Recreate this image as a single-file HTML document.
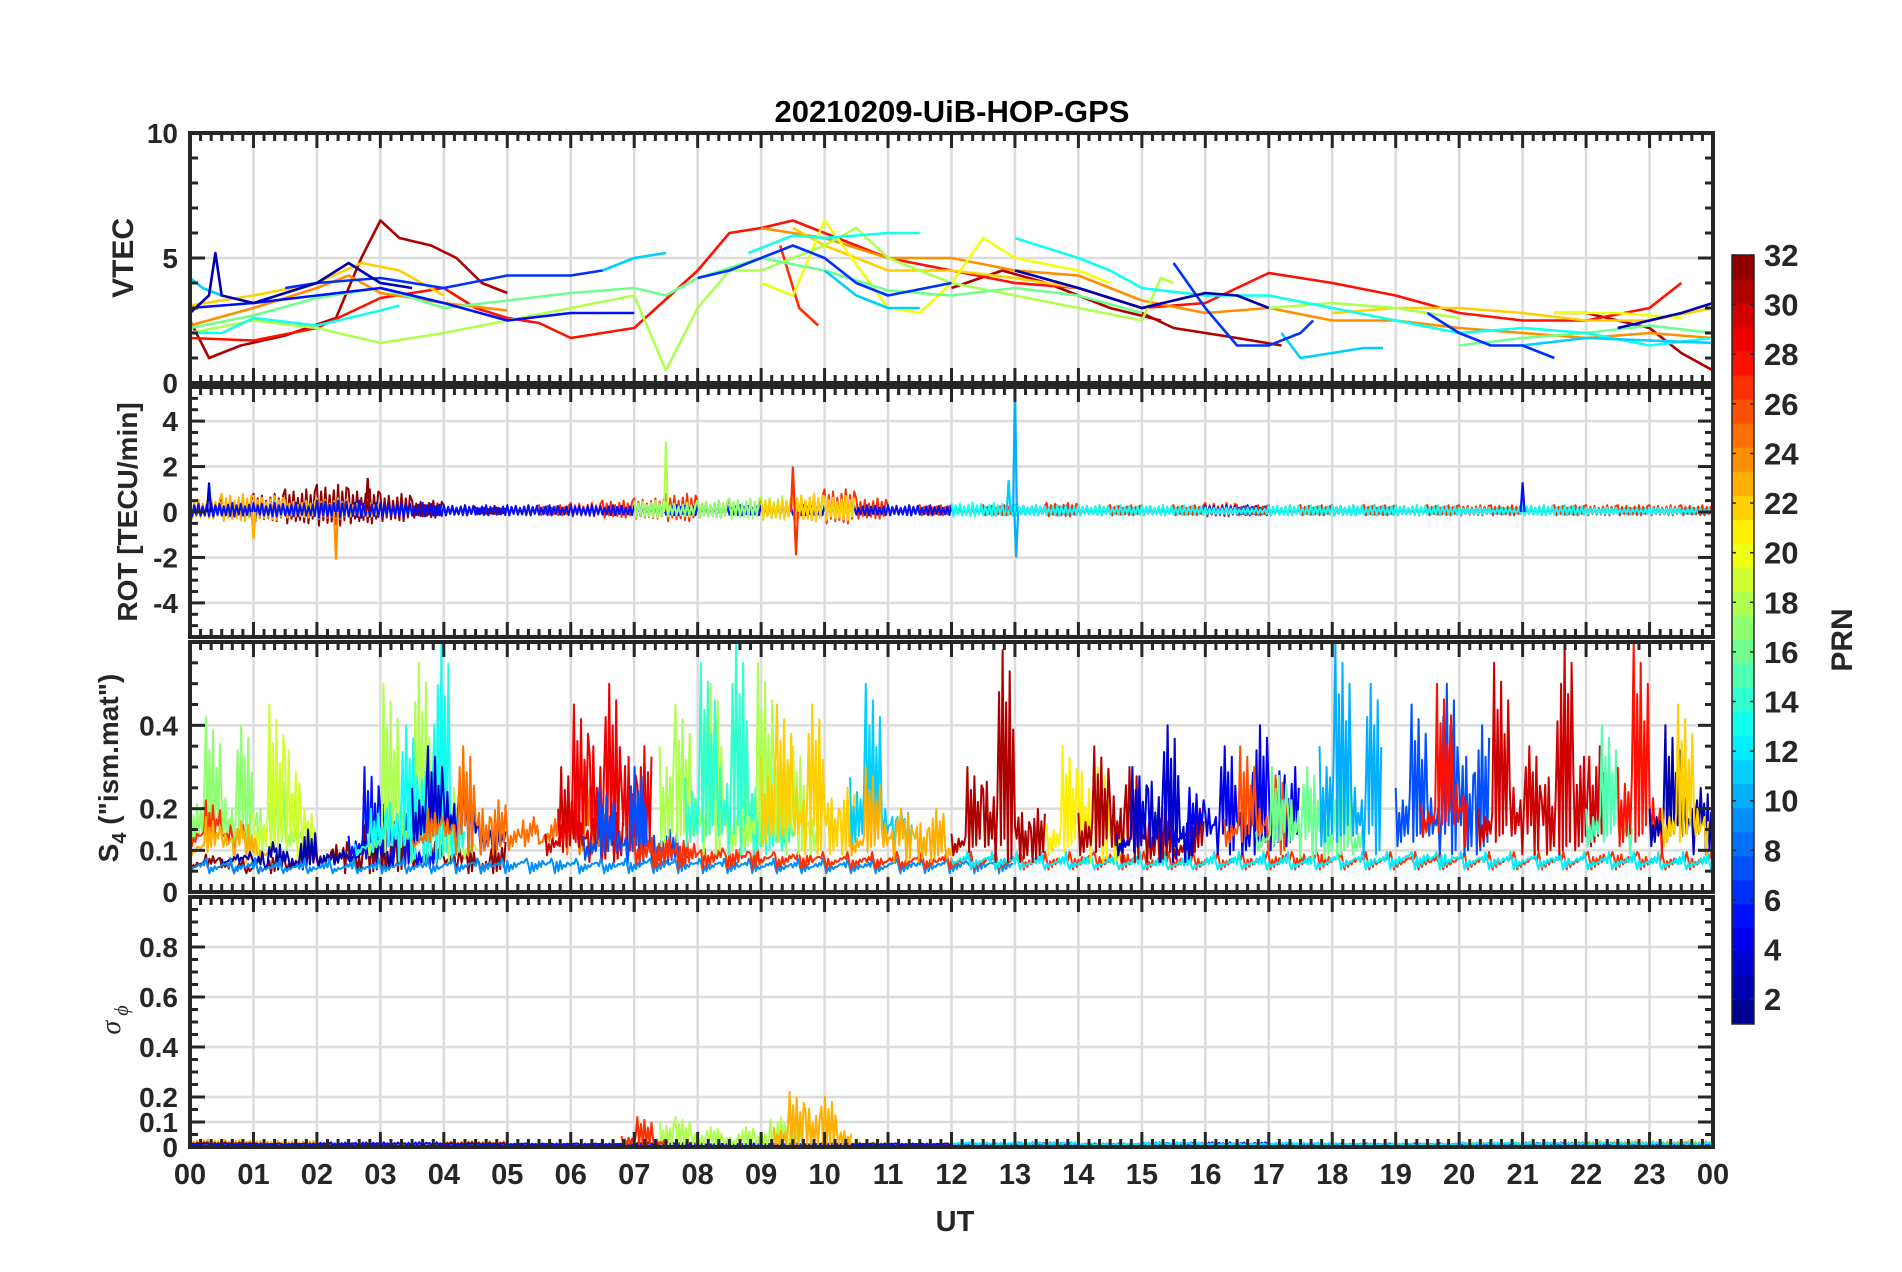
<!DOCTYPE html>
<html><head><meta charset="utf-8"><title>20210209-UiB-HOP-GPS</title>
<style>
html,body{margin:0;padding:0;background:#fff;}
svg{display:block;font-family:"Liberation Sans",Arial,sans-serif;font-weight:bold;}
</style></head>
<body>
<svg id="fig" width="1902" height="1272" viewBox="0 0 1902 1272" xmlns="http://www.w3.org/2000/svg">
<rect x="0" y="0" width="1902" height="1272" fill="#fff"/>
<text x="952" y="122" font-size="31" text-anchor="middle" fill="#000">20210209-UiB-HOP-GPS</text>
<text x="955" y="1231" font-size="29" text-anchor="middle" fill="#262626">UT</text>
<text transform="translate(133,258) rotate(-90)" font-size="30" text-anchor="middle" fill="#262626">VTEC</text>
<text transform="translate(137,512) rotate(-90)" font-size="28" text-anchor="middle" fill="#262626">ROT [TECU/min]</text>
<text transform="translate(118,768) rotate(-90)" font-size="28" text-anchor="middle" fill="#262626">S<tspan font-size="20" dy="8">4</tspan><tspan dy="-8"> ("ism.mat")</tspan></text>
<text transform="translate(120,1020) rotate(-90)" font-size="28" text-anchor="middle" fill="#262626" font-weight="normal" font-style="italic" font-family="Liberation Serif, serif">σ<tspan font-size="20" dy="8"> ϕ</tspan></text>
<text transform="translate(1852,640) rotate(-90)" font-size="30" text-anchor="middle" fill="#262626">PRN</text>
<g id="plots"></g>
</svg>
<script>
// ---------- DATA ----------
const hourLabels=["00","01","02","03","04","05","06","07","08","09","10","11","12","13","14","15","16","17","18","19","20","21","22","23","00"];
const vtecTicks=[0,5,10];
const rotTicks=[-4,-2,0,2,4];
const s4Ticks=[0,0.1,0.2,0.4];
const sigTicks=[0,0.1,0.2,0.4,0.6,0.8];
const cbTicks=[2,4,6,8,10,12,14,16,18,20,22,24,26,28,30,32];

// VTEC series: PRN, times (UT hours), values (TECU)
const vtecPrn=[31,31,31,31,28,27,24,24,22,22,22,20,20,18,18,16,16,13,13,13,11,11,11,11,11,6,6,6,6,5,2,2,2];
const vtecT=[
 [0,0.3,0.8,1.5,2.3,2.7,3.0,3.3,3.8,4.2,4.6,5.0],
 [12,12.8,13.5,14,14.5,15.3],
 [15,15.5,16.5,17.2],
 [21.5,22,23,23.5,24],
 [0,1,2,3,4,4.5,5,5.5,6,7,8,8.5,9,9.5,10,10.5,11,12,13,14,15,16,17,18,19,20,21,22,23,23.5],
 [9.3,9.6,9.9],
 [0,1,2,2.5,3,4,5],
 [9,10,11,12,13,14,15,16,17,18,19,20,21,22,23,24],
 [0,1,2,2.7,3.3,4],
 [9.5,10,11,12,13,14],
 [18,19,20,21,22,23,24],
 [9,9.5,10,11,11.5,12,12.5,13,14,14.5],
 [21.5,22.5,23.5],
 [0,1,2,3,4,5,6,7,7.5,7.7,8,8.5,9,10,10.5,11,12,13,14,15,15.3,15.5],
 [17,18,19,20],
 [0,1,2,3,4,5,6,7,7.5,8,9,10,11,12,13,14,15],
 [20,21,22,23,24],
 [0,0.5,1,2,3,3.3],
 [8.8,9.5,10,11,11.5],
 [13,14,14.5,15,16,17,18,19,20,21,22,23,24],
 [0,0.2,0.5],
 [6.5,7,7.5],
 [10,10.5,11,11.5],
 [17.2,17.5,18,18.5,18.8],
 [21,22,23,24],
 [1.5,2,3,4,5,6,6.5],
 [8,8.5,9,9.5,10,10.5,11,12],
 [15.5,16,16.5,17,17.5,17.7],
 [19.5,20,20.5,21,21.5],
 [0,1,2,3,4,5,6,7],
 [0,0.3,0.4,0.5,1,2,2.5,3,3.5],
 [13,14,15,16,16.5,17],
 [22.5,23,23.5,24]
];
const vtecV=[
 [2.5,1.0,1.5,1.9,2.6,5.0,6.5,5.8,5.5,5.0,4.0,3.6],
 [3.8,4.5,4.0,3.5,3.0,2.5],
 [2.8,2.2,1.8,1.5],
 [2.8,2.8,2.2,1.2,0.5],
 [1.8,1.7,2.2,3.4,3.8,3.0,2.6,2.4,1.8,2.2,4.5,6.0,6.2,6.5,6.0,5.5,5.0,4.5,4.0,3.8,3.0,3.2,4.4,4.0,3.5,2.8,2.5,2.5,3.0,4.0],
 [5.5,3.0,2.3],
 [2.3,3.0,3.8,4.3,3.6,3.2,2.9],
 [6.2,5.8,5.0,5.0,4.5,4.3,3.3,2.8,3.0,2.5,2.5,2.2,2.0,1.8,2.0,1.8],
 [3.1,3.5,4.0,4.8,4.5,3.5],
 [6.2,5.5,4.5,4.5,4.2,3.8],
 [2.8,3.0,3.0,2.8,2.5,2.5,3.0],
 [4.0,3.5,6.5,3.0,2.8,4.0,5.8,5.0,4.5,4.0],
 [2.8,2.8,2.6],
 [2.0,2.5,2.2,1.6,2.0,2.5,3.0,3.5,0.5,1.5,3.0,4.5,4.5,5.5,6.2,5.0,4.0,3.5,3.0,2.5,4.2,4.0],
 [3.0,3.2,3.0,2.6],
 [2.2,2.7,3.4,3.8,3.0,3.3,3.6,3.8,3.5,4.2,5.0,4.5,3.7,3.5,3.8,3.5,2.8],
 [1.5,1.8,2.0,2.3,2.0],
 [2.0,2.0,2.6,2.3,2.9,3.1],
 [5.2,5.9,5.8,6.0,6.0],
 [5.8,5.0,4.5,3.8,3.5,3.5,3.0,2.5,2.0,2.2,2.0,1.5,1.8],
 [4.2,3.8,3.5],
 [4.5,5.0,5.2],
 [4.5,3.5,3.0,3.0],
 [2.0,1.0,1.2,1.4,1.4],
 [1.5,1.8,1.7,1.6],
 [3.8,4.0,4.2,3.8,4.3,4.3,4.5],
 [4.2,4.5,5.0,5.5,5.0,4.0,3.5,4.0],
 [4.8,3.0,1.5,1.5,2.0,2.5],
 [2.8,2.0,1.5,1.5,1.0],
 [3.0,3.2,3.5,3.8,3.2,2.5,2.8,2.8],
 [2.8,3.5,5.2,3.5,3.2,4.0,4.8,4.0,3.8],
 [4.5,3.8,3.0,3.6,3.5,3.0],
 [2.2,2.5,2.8,3.2]
];

// ROT noise-envelope series (TECU/min): PRN, start hour, step, amplitude
const rotPrn=[32,23,27,5,17,13,22];
const rotT0=[0,0,5,0,7,12,9];
const rotDt=[0.5,0.5,0.5,1,0.5,1,0.5];
const rotAmp=[
 [0.5,0.6,0.8,1.0,1.2,1.0,0.8,0.5,0.3,0.2],
 [0.6,0.8,0.7,0.5,0.6,0.4],
 [0.3,0.3,0.4,0.5,0.6,0.8,0.5,0.4,0.6,0.8,1.0,0.6,0.3,0.3,0.3,0.3,0.3,0.4,0.3,0.3,0.3,0.3,0.4,0.3,0.3,0.3,0.3,0.3,0.3,0.3,0.3,0.3,0.3,0.3,0.3,0.3,0.3,0.3],
 [0.4,0.4,0.5,0.4,0.3,0.3,0.3,0.3,0.3,0.3,0.3,0.3,0.3,0.3,0.2,0.2,0.3,0.2,0.3,0.2,0.2,0.2,0.2,0.2],
 [0.5,0.4,0.5,0.6,0.7,0.6,0.4],
 [0.4,0.3,0.3,0.3,0.2,0.3,0.3,0.3,0.2,0.3,0.2,0.2],
 [0.6,0.8,0.7]
];
const rotSpikeT=[2.3,7.5,13.0,13.02,9.5,9.55,1.0,21.0,0.3,12.9,2.8];
const rotSpikeV=[-2.1,3.1,5.6,-2.0,2.0,-1.9,-1.2,1.3,1.3,1.4,1.5];
const rotSpikePrn=[24,18,10,10,27,27,23,5,3,11,32];

// S4 series: PRN, start hour, step, peak values, baseline
const s4Prn=[17,19,27,23,32,2,5,18,13,3,25,30,29,7,9,27,12,18,14,18,22,11,23,31,21,31,3,4,26,16,10,7,28,30,15,28,2,22];
const s4T0=[0,1.0,0,0,0,0.5,2.5,2.8,2.6,3.5,3.5,5.6,5.8,6.2,0,7,12,7.4,7.8,8.7,9.0,10.4,10.4,12.0,13.5,14.0,14.6,15.5,16.3,16.8,17.8,19.0,19.4,20.3,22.0,22.5,23.0,23.2];
const s4Dt=[0.25,0.25,0.25,0.25,0.25,0.25,0.25,0.25,0.25,0.25,0.25,0.25,0.25,0.25,1,1,1,0.25,0.25,0.25,0.25,0.25,0.25,0.25,0.25,0.25,0.25,0.25,0.25,0.25,0.25,0.25,0.25,0.25,0.25,0.25,0.25,0.25];
const s4Base=[0.1,0.08,0.1,0.08,0.05,0.06,0.07,0.08,0.08,0.1,0.1,0.08,0.1,0.07,0.05,0.06,0.06,0.1,0.1,0.1,0.1,0.1,0.08,0.08,0.08,0.08,0.08,0.1,0.1,0.09,0.1,0.1,0.12,0.1,0.1,0.1,0.1,0.1];
const s4Hi=[
 [0.38,0.42,0.35,0.4,0.3,0.28,0.2,0.15],
 [0.3,0.45,0.6,0.2],
 [0.2,0.22,0.18,0.15],
 [0.15,0.18,0.2,0.17,0.12],
 [0.1,0.09,0.07,0.06,0.07,0.09,0.1,0.12,0.14,0.12,0.15,0.16,0.2,0.16,0.14,0.12,0.13,0.11,0.1,0.12],
 [0.1,0.09,0.08,0.12,0.1,0.15,0.12,0.1,0.12,0.14,0.15],
 [0.2,0.3,0.35,0.2,0.12,0.1],
 [0.2,0.5,0.3,0.55,0.4,0.25,0.15],
 [0.15,0.2,0.35,0.4,0.5,0.6,0.3],
 [0.4,0.35,0.38,0.3,0.22,0.15],
 [0.15,0.2,0.25,0.35,0.3,0.22,0.2,0.18,0.15,0.2,0.25,0.3],
 [0.2,0.3,0.25,0.2,0.3],
 [0.3,0.45,0.6,0.5,0.55,0.35],
 [0.2,0.25,0.22,0.3,0.2,0.15,0.1],
 [0.08,0.07,0.07,0.08,0.09,0.1,0.09,0.1,0.09,0.08,0.08,0.09,0.1],
 [0.2,0.15,0.12,0.1,0.1,0.1,0.1,0.12,0.1,0.1,0.12,0.1,0.1,0.1,0.1,0.12,0.1,0.12],
 [0.1,0.08,0.08,0.07,0.08,0.08,0.1,0.12,0.1,0.1,0.09,0.08,0.1],
 [0.6,0.45,0.35,0.5,0.3,0.25,0.3,0.25],
 [0.45,0.55,0.5,0.6,0.4,0.3,0.25],
 [0.3,0.55,0.5,0.35,0.25],
 [0.55,0.45,0.4,0.45,0.35,0.25],
 [0.45,0.5,0.3,0.2],
 [0.2,0.3,0.25,0.2,0.25,0.2,0.15],
 [0.2,0.3,0.45,0.58,0.3,0.2],
 [0.25,0.35,0.5,0.3,0.25],
 [0.3,0.35,0.38,0.3,0.25,0.2,0.15,0.2],
 [0.2,0.3,0.45,0.4,0.25],
 [0.2,0.25,0.3,0.35,0.3,0.4,0.48,0.3],
 [0.25,0.35,0.3,0.28],
 [0.2,0.3,0.35,0.3,0.25,0.3,0.2],
 [0.6,0.6,0.4,0.5],
 [0.4,0.45,0.35,0.5,0.55,0.4],
 [0.3,0.5,0.4],
 [0.3,0.55,0.4,0.35,0.45,0.6,0.55,0.35],
 [0.3,0.4,0.25],
 [0.5,0.6,0.35],
 [0.3,0.4,0.35,0.25],
 [0.3,0.45,0.3]
];

// Sigma-phi series
const sigPrn=[23,32,5,18,23,27,12];
const sigT0=[0,0,0,7.4,9.2,6.8,12];
const sigDt=[1,1,1,0.25,0.25,0.25,1];
const sigHi=[
 [0.05,0.04,0.02,0.02,0.04,0.02,0.02,0.03,0.02,0.02,0.03,0.02,0.02,0.02,0.02,0.02,0.02,0.02,0.02,0.02,0.03,0.03,0.04,0.04],
 [0.03,0.02,0.02,0.03,0.03,0.02,0.02,0.03,0.02,0.02,0.02,0.02,0.02,0.03,0.02,0.02,0.02,0.02,0.02,0.02,0.02,0.03,0.02,0.02],
 [0.02,0.02,0.03,0.03,0.02,0.02,0.02,0.02,0.02,0.02,0.02,0.02,0.02,0.02,0.02,0.03,0.03,0.02,0.02,0.02,0.02,0.02,0.02,0.02],
 [0.2,0.12,0.1,0.08,0.07,0.08,0.1,0.12,0.15],
 [0.15,0.22,0.3,0.2,0.12],
 [0.08,0.12,0.05],
 [0.03,0.03,0.02,0.03,0.02,0.03,0.02,0.02,0.03,0.03,0.03,0.03]
];

// ---------- LAYOUT ----------
const NS="http://www.w3.org/2000/svg";
const L=190,R=1713;
const panels=[
 {top:133,bot:383,min:0,max:10,ticks:vtecTicks,minor:1,fmt:v=>String(v),name:'vtec'},
 {top:387,bot:637,min:-5.5,max:5.5,ticks:rotTicks,minor:0.5,fmt:v=>String(v),name:'rot'},
 {top:642,bot:892,min:0,max:0.6,ticks:s4Ticks,minor:0.05,fmt:v=>String(v),name:'s4'},
 {top:897,bot:1147,min:0,max:1,ticks:sigTicks,minor:0.05,fmt:v=>String(v),name:'sigma-phi'}
];
function xS(t){return L+t/24*(R-L);}
function yS(p,v){return p.bot-(v-p.min)/(p.max-p.min)*(p.bot-p.top);}
function jet(i,n){
 const v=(i+0.5)/n*4;
 const r=Math.max(0,Math.min(1,Math.min(v-1.5,-v+4.5)));
 const g=Math.max(0,Math.min(1,Math.min(v-0.5,-v+3.5)));
 const b=Math.max(0,Math.min(1,Math.min(v+0.5,-v+2.5)));
 return 'rgb('+Math.round(r*255)+','+Math.round(g*255)+','+Math.round(b*255)+')';
}
function prnColor(p){return jet(p-1,32);}
function mk(tag,attrs,parent){const e=document.createElementNS(NS,tag);for(const k in attrs)e.setAttribute(k,attrs[k]);parent.appendChild(e);return e;}
const root=document.getElementById('plots');
const defs=mk('defs',{},root);
const pat=[1,0.5,0.75,0.3,0.9,0.4,0.62,0.35,0.8,0.45];
const lowPat=[1,1.4,1.1,1.6,1.2,0.9,1.35];

panels.forEach((p,pi)=>{
 const g=mk('g',{},root);
 
 
 const cp=mk('clipPath',{id:'cp'+pi},defs);
 mk('rect',{x:L,y:p.top,width:R-L,height:p.bot-p.top},cp);
 for(let h=1;h<24;h++){
  const gl=mk('line',{x1:xS(h),x2:xS(h),y1:p.top,y2:p.bot,stroke:'#dcdcdc','stroke-width':2.5},g);
  
  
 }
 p.ticks.forEach(v=>{
  if(v===p.min||v===p.max)return;
  const gl=mk('line',{x1:L,x2:R,y1:yS(p,v),y2:yS(p,v),stroke:'#dcdcdc','stroke-width':2.5},g);
  
  
 });
 const dg=mk('g',{'clip-path':'url(#cp'+pi+')'},g);
 
 
 p.dg=dg;
});

// VTEC lines
vtecPrn.forEach((prn,i)=>{
 const p=panels[0];
 const pts=vtecT[i].map((t,j)=>xS(t).toFixed(1)+','+yS(p,vtecV[i][j]).toFixed(1)).join(' ');
 const pl=mk('polyline',{points:pts,fill:'none',stroke:prnColor(prn),'stroke-width':2.6,'stroke-linejoin':'round'},p.dg);
 
 
});

// ROT
rotPrn.forEach((prn,i)=>{
 const p=panels[1];const pts=[];
 rotAmp[i].forEach((a,j)=>{
  const t=rotT0[i]+j*rotDt[i];const n=Math.round(rotDt[i]*30);
  for(let k=0;k<n;k++){
   const s=(k%2?-1:1)*a*pat[k%pat.length];
   pts.push(xS(t+k*rotDt[i]/n).toFixed(1)+','+yS(p,s).toFixed(1));
  }
 });
 const pl=mk('polyline',{points:pts.join(' '),fill:'none',stroke:prnColor(prn),'stroke-width':2,'stroke-linejoin':'round'},p.dg);
 
 
});
rotSpikeT.forEach((t,i)=>{
 const p=panels[1];
 const pl=mk('polyline',{points:xS(t-0.03)+','+yS(p,0)+' '+xS(t)+','+yS(p,rotSpikeV[i])+' '+xS(t+0.03)+','+yS(p,0),fill:'none',stroke:prnColor(rotSpikePrn[i]),'stroke-width':2.2},p.dg);
 
 
});

// S4 and sigma zigzag series
function zig(p,prn,t0,dt,hi,base,name,n){
 const pts=[];let c=0;
 hi.forEach((h,j)=>{
  const t=t0+j*dt;
  for(let k=0;k<n;k++){
   c++;
   const v=(k%2===0)?base+(h-base)*pat[c%pat.length]:base*lowPat[c%lowPat.length];
   pts.push(xS(t+k*dt/n).toFixed(1)+','+yS(p,v).toFixed(1));
  }
 });
 const pl=mk('polyline',{points:pts.join(' '),fill:'none',stroke:prnColor(prn),'stroke-width':2,'stroke-linejoin':'round'},p.dg);
 
 
}
s4Prn.forEach((prn,i)=>zig(panels[2],prn,s4T0[i],s4Dt[i],s4Hi[i],s4Base[i],'s4-line',Math.round(s4Dt[i]*36)));
sigPrn.forEach((prn,i)=>zig(panels[3],prn,sigT0[i],sigDt[i],sigHi[i],0.008,'sigma-phi-line',Math.round(sigDt[i]*36)));

// axes frames, ticks, labels
panels.forEach((p,pi)=>{
 const g=mk('g',{},root);
 
 
 const col='#262626';
 for(let h=0;h<=24;h+=1/6){
  const major=Math.abs(h-Math.round(h))<1e-6;const len=major?15:8;const x=xS(h);
  mk('line',{x1:x,x2:x,y1:p.top,y2:p.top+len,stroke:col,'stroke-width':3},g);
  mk('line',{x1:x,x2:x,y1:p.bot,y2:p.bot-len,stroke:col,'stroke-width':3},g);
 }
 const nm=Math.round((p.max-p.min)/p.minor);
 for(let k=0;k<=nm;k++){
  const v=p.min+k*p.minor;
  const major=p.ticks.some(t=>Math.abs(t-v)<1e-6);const len=major?15:8;const y=yS(p,v);
  mk('line',{x1:L,x2:L+len,y1:y,y2:y,stroke:col,'stroke-width':3},g);
  mk('line',{x1:R,x2:R-len,y1:y,y2:y,stroke:col,'stroke-width':3},g);
 }
 const fr=mk('rect',{x:L,y:p.top,width:R-L,height:p.bot-p.top,fill:'none',stroke:col,'stroke-width':4},g);
 
 
 p.ticks.forEach(v=>{
  const tx=mk('text',{x:178,y:yS(p,v)+10,'font-size':28,'text-anchor':'end',fill:col},g);
  tx.textContent=p.fmt(v);
  
  
 });
});
hourLabels.forEach((lab,i)=>{
 const tx=mk('text',{x:xS(i),y:1184,'font-size':29,'text-anchor':'middle',fill:'#262626'},root);
 tx.textContent=lab;
 
 
});
// colorbar
const cb=mk('g',{},root);


const cbTop=255,cbBot=1024,cbL=1732,cbR=1754;
for(let i=0;i<32;i++){
 const h=(cbBot-cbTop)/32;
 const r=mk('rect',{x:cbL,y:cbBot-(i+1)*h,width:cbR-cbL,height:h+0.5,fill:jet(i,32)},cb);
 
 
}
mk('rect',{x:cbL,y:cbTop,width:cbR-cbL,height:cbBot-cbTop,fill:'none',stroke:'#262626','stroke-width':1.5},cb);
function cbY(v){return cbBot-(v-1)/31*(cbBot-cbTop);}
cbTicks.forEach(v=>{
 const y=cbY(v);
 mk('line',{x1:cbL,x2:cbL+4,y1:y,y2:y,stroke:'#262626','stroke-width':1.5},cb);
 mk('line',{x1:cbR,x2:cbR-4,y1:y,y2:y,stroke:'#262626','stroke-width':1.5},cb);
 const tx=mk('text',{x:1764,y:y+11,'font-size':31,fill:'#262626'},cb);
 tx.textContent=String(v);
 
 
});
</script>
</body></html>
